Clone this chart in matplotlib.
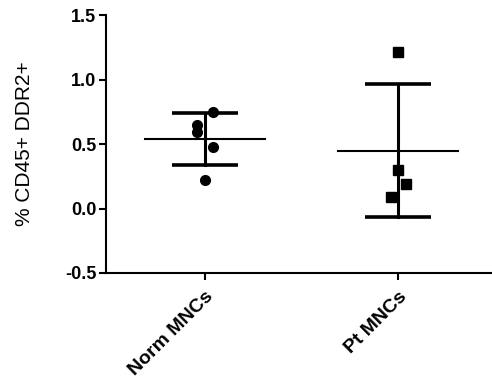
import matplotlib.pyplot as plt
import numpy as np

groups = ["Norm MNCs", "Pt MNCs"]
norm_vals = [0.75, 0.65, 0.59, 0.48, 0.22]
pt_vals = [1.21, 0.30, 0.19, 0.09]
norm_jitter = [0.04, -0.04, -0.04, 0.04, 0.0]
pt_jitter = [0.0, 0.0, 0.04, -0.035]
yticks = [-0.5, 0.0, 0.5, 1.0, 1.5]

plt.rcParams['font.family'] = ['Liberation Sans', 'DejaVu Sans']

fig = plt.figure(figsize=(4.92, 3.81), dpi=100)
ax = fig.add_axes([0.2154, 0.2835, 0.7846, 0.677])

data = [norm_vals, pt_vals]
jit = [norm_jitter, pt_jitter]
markers = ['o', 's']
for i, (vals, j, m) in enumerate(zip(data, jit, markers)):
    xpos = i + 1
    vals = np.array(vals)
    mean = vals.mean()
    sd = vals.std(ddof=1)
    ax.plot([xpos - 0.31, xpos + 0.31], [mean, mean], color='black', lw=1.5, zorder=2)
    ax.plot([xpos, xpos], [mean - sd, mean + sd], color='black', lw=2.2, zorder=2)
    for yv in (mean - sd, mean + sd):
        ax.plot([xpos - 0.17, xpos + 0.17], [yv, yv], color='black', lw=2.6,
                solid_capstyle='butt', zorder=2)
    ax.plot(xpos + np.array(j), vals, linestyle='none', marker=m, color='black',
            markersize=7, zorder=3)

ax.set_xlim(0.487, 2.487)
ax.set_ylim(-0.5, 1.5)
ax.set_yticks(yticks)
ax.set_yticklabels([f"{t:.1f}" for t in yticks], fontweight='bold', fontsize=13)
ax.set_xticks([1, 2])
ax.set_xticklabels(groups, rotation=45, ha='right', rotation_mode='anchor',
                   fontweight='bold', fontsize=14)
ax.set_ylabel("% CD45+ DDR2+", fontsize=15, labelpad=22)

for s in ['top', 'right']:
    ax.spines[s].set_visible(False)
for s in ['left', 'bottom']:
    ax.spines[s].set_linewidth(1.5)
ax.tick_params(width=1.5, length=5, pad=2)
ax.tick_params(axis='x', pad=6)

fig.savefig("out.png", dpi=100)
